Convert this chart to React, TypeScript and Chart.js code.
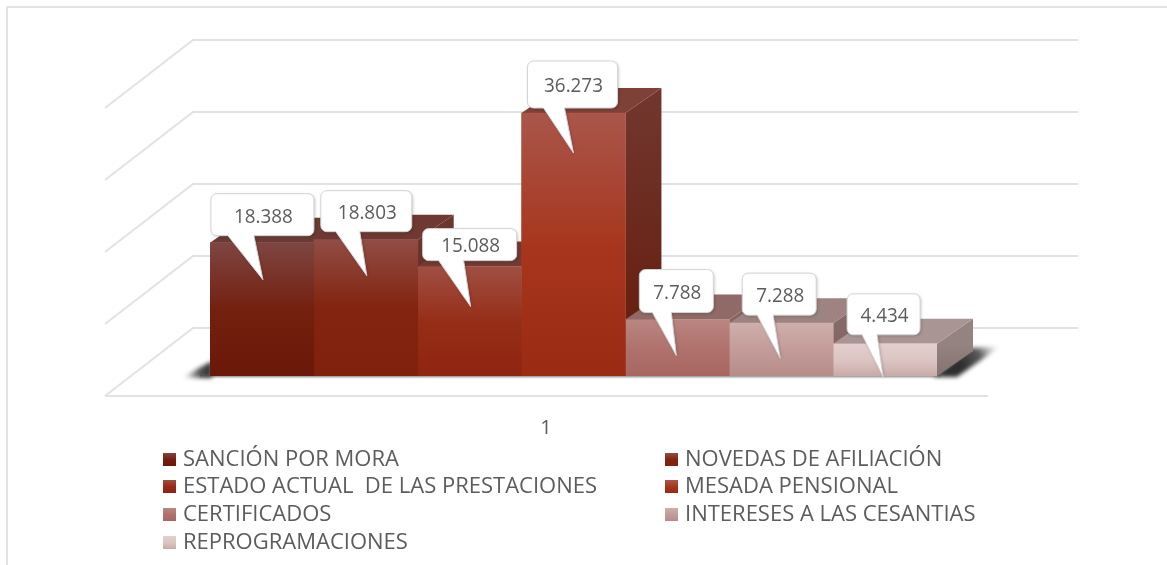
import { useEffect, useRef } from "react";
import { Chart, registerables } from "chart.js";

Chart.register(...registerables);

const categories = ["1"];
const seriesNames = [
  "SANCIÓN POR MORA",
  "NOVEDAS DE AFILIACIÓN",
  "ESTADO ACTUAL  DE LAS PRESTACIONES",
  "MESADA PENSIONAL",
  "CERTIFICADOS",
  "INTERESES A LAS CESANTIAS",
  "REPROGRAMACIONES",
];
const seriesValues = [18388, 18803, 15088, 36273, 7788, 7288, 4434];
const gridTicks = [0, 10000, 20000, 30000, 40000];

const FRONT = [
  ["#7e4641", "#74200f", "#6a1808"],
  ["#914d46", "#82240f", "#80210e"],
  ["#a04f44", "#962e17", "#8f2410"],
  ["#a9564b", "#a8361e", "#9a2a12"],
  ["#ba8681", "#b0726d", "#a86660"],
  ["#cfaeac", "#c39c99", "#b68c88"],
  ["#e3cfcd", "#dcc5c3", "#c9aba9"],
];
const TOP = ["#6b3a35", "#6f3832", "#713a33", "#7d4137", "#8f6a66", "#9d8382", "#a99594"];
const SIDE = [
  ["#5e2a20", "#5a180a"],
  ["#6b3630", "#5c1a0c"],
  ["#6b352c", "#601c0c"],
  ["#70352c", "#651a0a"],
  ["#86645f", "#7a5450"],
  ["#866a67", "#7f615d"],
  ["#958382", "#857271"],
];
// label box and pointer, relative to bar centre (x) and bar top (y)
const CALLOUT = [
  { l: -51, r: 52, t: -49, b: -7, tx: 1, tip: 37, bl: -34, br: -8 },
  { l: -45, r: 46, t: -49, b: -8, tx: 1, tip: 36, bl: -30, br: -6 },
  { l: -47, r: 47, t: -38, b: -6, tx: 1, tip: 40, bl: -31, br: -6 },
  { l: -46, r: 44, t: -52, b: -5, tx: 0, tip: 40, bl: -30, br: -9 },
  { l: -38, r: 36, t: -50, b: -7, tx: -1, tip: 36, bl: -25, br: -6 },
  { l: -39, r: 35, t: -50, b: -8, tx: -1, tip: 35, bl: -24, br: -8 },
  { l: -38, r: 35, t: -50, b: -9, tx: -2, tip: 33, bl: -23, br: -8 },
];
const LEGEND_ROWS = [458, 485, 513, 541];
const LEGEND_COLS = [163, 665];

const DEPTH_X = 36;
const DEPTH_Y = -25;
const WALL_RATIO = 72 / 72.5;
const FONT = '"Open Sans", "Noto Sans", sans-serif';
const TEXT = "#5c5c5c";
const GRID = "#e2e2e2";

const fmt = (v: number) => `${Math.floor(v / 1000)}.${String(v % 1000).padStart(3, "0")}`;

function frontGradient(ctx: CanvasRenderingContext2D, top: number, bottom: number, stops: string[]) {
  const g = ctx.createLinearGradient(0, top, 0, bottom);
  stops.forEach((c, i) => g.addColorStop(i / (stops.length - 1), c));
  return g;
}

function poly(ctx: CanvasRenderingContext2D, pts: number[][], fill: any) {
  ctx.beginPath();
  pts.forEach(([x, y], i) => (i ? ctx.lineTo(x, y) : ctx.moveTo(x, y)));
  ctx.closePath();
  ctx.fillStyle = fill;
  ctx.fill();
}

const scene = {
  id: "scene",
  beforeDatasetsDraw(chart: any) {
    const { ctx, scales } = chart;
    const y = scales.y;
    const base = y.getPixelForValue(0);
    const bars = chart.data.datasets.map((_: any, i: number) => chart.getDatasetMeta(i).data[0]);
    const left = bars[0].x - bars[0].width / 2;
    const right = bars[6].x + bars[6].width / 2;

    // walls: one line per axis tick
    ctx.save();
    ctx.strokeStyle = GRID;
    ctx.lineWidth = 2;
    for (const t of gridTicks) {
      const rise = (base - y.getPixelForValue(t)) * WALL_RATIO;
      const backY = base - 48 - rise;
      const frontY = base + 20 - rise;
      ctx.beginPath();
      ctx.moveTo(left - 105, frontY);
      ctx.lineTo(left - 17, backY);
      ctx.lineTo(right + 141, backY);
      ctx.stroke();
    }
    // floor front edge
    ctx.beginPath();
    ctx.moveTo(left - 105, base + 20);
    ctx.lineTo(right + 51, base + 20);
    ctx.stroke();
    ctx.restore();

    // floor shadows
    ctx.save();
    ctx.filter = "blur(2px)";
    const sr = ctx.createLinearGradient(right + 26, base - 8, right + 62, base - 29);
    sr.addColorStop(0, "#2e2e2e");
    sr.addColorStop(0.5, "#5a5a5a");
    sr.addColorStop(1, "rgba(170,170,170,0)");
    poly(ctx, [[right - 4, base + 1], [right + 20, base + 1], [right + 64, base - 30], [right + 34, base - 28]], sr);
    const sl = ctx.createLinearGradient(left - 26, base, left, base);
    sl.addColorStop(0, "rgba(110,110,110,0)");
    sl.addColorStop(0.6, "#555555");
    sl.addColorStop(1, "#333333");
    poly(ctx, [[left - 30, base + 2], [left + 2, base - 15], [left + 2, base + 2]], sl);
    ctx.restore();
    const sb = ctx.createLinearGradient(0, base - 1, 0, base + 3);
    sb.addColorStop(0, "rgba(70,70,70,0.9)");
    sb.addColorStop(1, "rgba(150,150,150,0)");
    ctx.fillStyle = sb;
    ctx.fillRect(left - 10, base - 1, right - left + 14, 4);

    // depth faces, left to right; fronts are painted over them by Chart.js
    bars.forEach((b: any, i: number) => {
      const l = b.x - b.width / 2;
      const r = b.x + b.width / 2;
      poly(
        ctx,
        [[r, b.y], [r + DEPTH_X, b.y + DEPTH_Y], [r + DEPTH_X, base + DEPTH_Y], [r, base]],
        frontGradient(ctx, b.y, base, SIDE[i]),
      );
      poly(ctx, [[l, b.y], [l + DEPTH_X, b.y + DEPTH_Y], [r + DEPTH_X, b.y + DEPTH_Y], [r, b.y]], TOP[i]);
    });
  },
  afterDatasetsDraw(chart: any) {
    const { ctx } = chart;
    const base = chart.scales.y.getPixelForValue(0);
    ctx.save();
    ctx.textAlign = "center";
    ctx.textBaseline = "middle";

    seriesValues.forEach((v, i) => {
      const b = chart.getDatasetMeta(i).data[0];
      const c = CALLOUT[i];
      const L = b.x + c.l;
      const R = b.x + c.r;
      const T = b.y + c.t;
      const B = b.y + c.b;
      const rad = 6;
      const tipX = b.x + c.tx;
      const tipY = Math.min(b.y + c.tip, base + 1);
      ctx.beginPath();
      ctx.moveTo(L + rad, T);
      ctx.arcTo(R, T, R, B, rad);
      ctx.arcTo(R, B, L, B, rad);
      ctx.lineTo(b.x + c.br, B);
      ctx.lineTo(tipX, tipY);
      ctx.lineTo(b.x + c.bl, B);
      ctx.arcTo(L, B, L, T, rad);
      ctx.arcTo(L, T, R, T, rad);
      ctx.closePath();
      ctx.save();
      ctx.shadowColor = "rgba(0,0,0,0.25)";
      ctx.shadowBlur = 3;
      ctx.shadowOffsetX = 1;
      ctx.shadowOffsetY = 1;
      ctx.fillStyle = "#ffffff";
      ctx.fill();
      ctx.restore();
      ctx.strokeStyle = "#d4d4d4";
      ctx.lineWidth = 1;
      ctx.stroke();
      ctx.fillStyle = TEXT;
      ctx.font = `20.5px ${FONT}`;
      ctx.save();
      ctx.translate((L + R) / 2 + 1, (T + B) / 2 + 2);
      ctx.scale(0.92, 1);
      ctx.fillText(fmt(v), 0, 0);
      ctx.restore();
    });

    // category label
    ctx.fillStyle = TEXT;
    ctx.font = `20px ${FONT}`;
    ctx.fillText(categories[0], 546, base + 52);

    // legend
    ctx.textAlign = "left";
    seriesNames.forEach((name, i) => {
      const col = LEGEND_COLS[i % 2];
      const row = LEGEND_ROWS[Math.floor(i / 2)];
      ctx.fillStyle = frontGradient(ctx, row - 5, row + 8, FRONT[i]);
      ctx.fillRect(col, row - 5, 13, 13);
      ctx.fillStyle = TEXT;
      ctx.font = `22px ${FONT}`;
      ctx.fillText(name, col + 20, row + 2);
    });
    ctx.restore();
  },
};

export default function App() {
  const ref = useRef<HTMLCanvasElement>(null);
  useEffect(() => {
    document.body.style.margin = "0";
    document.body.style.background = "#ffffff";
    const chart = new Chart(ref.current!, {
      type: "bar",
      data: {
        labels: categories,
        datasets: seriesNames.map((label, i) => ({
          label,
          data: [seriesValues[i]],
          backgroundColor: (c: any) => {
            const area = c.chart.chartArea;
            if (!area) return FRONT[i][0];
            const y = c.chart.scales.y;
            return frontGradient(c.chart.ctx, y.getPixelForValue(seriesValues[i]), y.getPixelForValue(0), FRONT[i]);
          },
          borderWidth: 0,
          categoryPercentage: 1,
          barPercentage: 1,
        })),
      },
      options: {
        responsive: false,
        animation: false,
        layout: { padding: { left: 210, right: 230, top: 86, bottom: 189 } },
        plugins: { legend: { display: false }, tooltip: { enabled: false } },
        scales: {
          x: { display: false },
          y: { display: false, min: 0, max: 40000 },
        },
      },
      plugins: [scene],
    });
    return () => chart.destroy();
  }, []);
  return (
    <div style={{ position: "relative", width: 1167, height: 565, background: "#fff", overflow: "hidden" }}>
      <canvas ref={ref} width={1167} height={565} style={{ display: "block", filter: "blur(0.6px)" }} />
      <div
        style={{
          position: "absolute",
          left: 6,
          top: 6,
          right: 0,
          bottom: 0,
          borderTop: "2px solid #e4e4e4",
          borderLeft: "2px solid #e4e4e4",
          pointerEvents: "none",
        }}
      />
    </div>
  );
}
